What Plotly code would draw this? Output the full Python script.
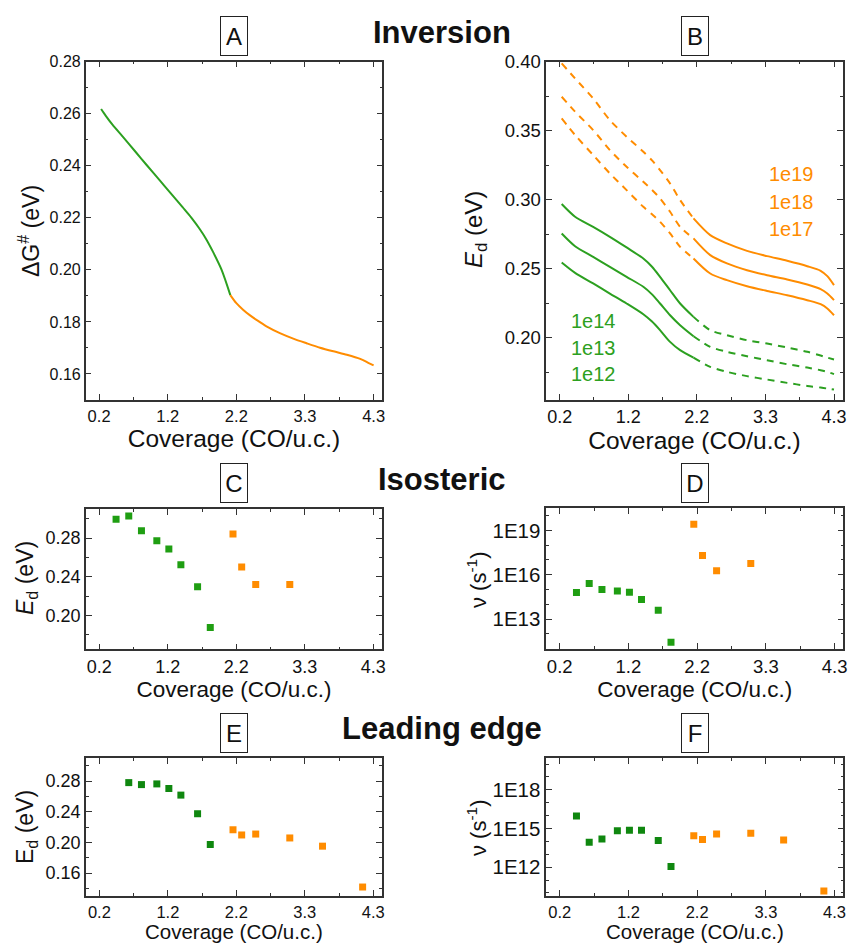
import plotly.graph_objects as go

# ---------------- data ----------------
X_TICKVALS = [0.2, 1.225, 2.25, 3.275, 4.3]
X_TICKTEXT = ["0.2", "1.2", "2.2", "3.3", "4.3"]
X_TITLE = "Coverage (CO/u.c.)"

# Panel A: inversion free energy barrier
A_X = [0.23, 0.30, 0.40, 0.55, 0.75, 0.91, 1.10, 1.30, 1.45, 1.58, 1.70, 1.80, 1.90, 2.03, 2.16,
       2.25, 2.35, 2.45, 2.55, 2.70, 2.90, 3.10, 3.30, 3.50, 3.70, 3.90, 4.10, 4.22, 4.30]
A_Y = [0.2618, 0.2592, 0.2558, 0.2513, 0.2452, 0.2403, 0.2346, 0.2285, 0.2240, 0.2200, 0.2158,
       0.2118, 0.2070, 0.2000, 0.1903,
       0.1872, 0.1847, 0.1826, 0.1808, 0.1783, 0.1757, 0.1736, 0.1718, 0.1701, 0.1687, 0.1674,
       0.1658, 0.1643, 0.1633]
A_SPLIT = 2.16

# Panel B: desorption energy for assumed prefactors
B_X = [0.23, 0.43, 0.7, 0.95, 1.2, 1.45, 1.58, 1.7, 1.85, 2.0, 2.2,
       2.45, 2.7, 3.0, 3.3, 3.6, 3.9, 4.1, 4.2, 4.3]
B_1E19 = [0.3988, 0.3879, 0.3734, 0.3577, 0.3457, 0.3348, 0.3285, 0.3215, 0.3118, 0.2998, 0.2865,
          0.2744, 0.2684, 0.2630, 0.2592, 0.2558, 0.2519, 0.2486, 0.2447, 0.2382]
B_1E18 = [0.3746, 0.3638, 0.3505, 0.3360, 0.3239, 0.3130, 0.3072, 0.3010, 0.2913, 0.2804, 0.2720,
          0.2599, 0.2539, 0.2490, 0.2454, 0.2423, 0.2386, 0.2353, 0.2321, 0.2273]
B_1E17 = [0.3589, 0.3469, 0.3324, 0.3191, 0.3070, 0.2949, 0.2895, 0.2841, 0.2756, 0.2659, 0.2575,
          0.2466, 0.2418, 0.2374, 0.2340, 0.2309, 0.2273, 0.2244, 0.2213, 0.2164]
B_1E14 = [0.2969, 0.2877, 0.2804, 0.2732, 0.2655, 0.2575, 0.2515, 0.2442, 0.2345, 0.2249, 0.2152,
          0.2056, 0.2019, 0.1983, 0.1959, 0.1930, 0.1899, 0.1872, 0.1857, 0.1843]
B_1E13 = [0.2756, 0.2664, 0.2587, 0.2514, 0.2442, 0.2370, 0.2315, 0.2249, 0.2164, 0.2092, 0.2012,
          0.1935, 0.1899, 0.1867, 0.1838, 0.1809, 0.1785, 0.1766, 0.1754, 0.1737]
B_1E12 = [0.2546, 0.2471, 0.2394, 0.2321, 0.2249, 0.2171, 0.2118, 0.2056, 0.1971, 0.1911, 0.1857,
          0.1790, 0.1754, 0.1723, 0.1698, 0.1674, 0.1652, 0.1640, 0.1633, 0.1626]
B_SPLIT = 2.2

# Panels C/D: isosteric analysis
ISO_X_LOW = [0.45, 0.64, 0.83, 1.06, 1.24, 1.42, 1.67, 1.86]
ISO_X_HIGH = [2.20, 2.33, 2.54, 3.05]
C_ED_LOW = [0.2993, 0.3028, 0.2876, 0.2772, 0.2686, 0.2524, 0.2296, 0.1875]
C_ED_HIGH = [0.2841, 0.2500, 0.2320, 0.2320]
D_NU_LOW = [6.2e14, 2.5e15, 9.8e14, 7.9e14, 6.5e14, 2.1e14, 3.9e13, 2.7e11]
D_NU_HIGH = [2.6e19, 1.95e17, 1.86e16, 5.6e16]

# Panels E/F: leading edge analysis
LE_X_LOW_E = [0.64, 0.83, 1.06, 1.24, 1.42, 1.67, 1.86]
LE_X_LOW_F = [0.45, 0.64, 0.83, 1.06, 1.24, 1.42, 1.67, 1.86]
LE_X_HIGH = [2.20, 2.33, 2.54, 3.05, 3.54, 4.14]
E_ED_LOW = [0.2779, 0.2753, 0.2762, 0.2702, 0.2616, 0.2373, 0.1972]
E_ED_HIGH = [0.2164, 0.2096, 0.2108, 0.2057, 0.1950, 0.1417]
F_NU_LOW = [9.3e15, 8.5e13, 1.55e14, 6.6e14, 7.4e14, 7.4e14, 1.15e14, 1.1e12]
F_NU_HIGH = [2.75e14, 1.4e14, 3.7e14, 4.2e14, 1.3e14, 1.4e10]

# ---------------- style ----------------
FONT = "Liberation Sans, Arial, sans-serif"
GREEN_LINE = "#2ca020"
GREEN_C = "#1f9e12"
GREEN_E = "#0f870f"
ORANGE = "#ff8c00"
AX = "#333333"
DASH = "7px,6px"
W, H = 850, 944


def fx(px):
    return px / W


def fy(py):
    return 1 - py / H


def split(xs, ys, cut):
    lo = [(x, y) for x, y in zip(xs, ys) if x <= cut]
    hi = [(x, y) for x, y in zip(xs, ys) if x >= cut]
    return ([p[0] for p in lo], [p[1] for p in lo]), ([p[0] for p in hi], [p[1] for p in hi])


fig = go.Figure()

# Panel A
(axl, ayl), (axh, ayh) = split(A_X, A_Y, A_SPLIT)
fig.add_trace(go.Scatter(x=axl, y=ayl, mode="lines",
                         line=dict(color=GREEN_LINE, width=2, shape="spline", smoothing=0.8),
                         xaxis="x", yaxis="y", showlegend=False))
fig.add_trace(go.Scatter(x=axh, y=ayh, mode="lines",
                         line=dict(color=ORANGE, width=2, shape="spline", smoothing=0.8),
                         xaxis="x", yaxis="y", showlegend=False))

# Panel B
for ys, col, low_dash, high_dash in [
    (B_1E19, ORANGE, DASH, "solid"),
    (B_1E18, ORANGE, DASH, "solid"),
    (B_1E17, ORANGE, DASH, "solid"),
    (B_1E14, GREEN_LINE, "solid", DASH),
    (B_1E13, GREEN_LINE, "solid", DASH),
    (B_1E12, GREEN_LINE, "solid", DASH),
]:
    (bxl, byl), (bxh, byh) = split(B_X, ys, B_SPLIT)
    fig.add_trace(go.Scatter(x=bxl, y=byl, mode="lines",
                             line=dict(color=col, width=2, dash=low_dash, shape="spline", smoothing=0.8),
                             xaxis="x2", yaxis="y2", showlegend=False))
    fig.add_trace(go.Scatter(x=bxh, y=byh, mode="lines",
                             line=dict(color=col, width=2, dash=high_dash, shape="spline", smoothing=0.8),
                             xaxis="x2", yaxis="y2", showlegend=False))

MSZ = 7


def sq(x, y, col, xa, ya):
    return go.Scatter(x=x, y=y, mode="markers",
                      marker=dict(symbol="square", size=MSZ, color=col, line=dict(width=0)),
                      xaxis=xa, yaxis=ya, showlegend=False)


fig.add_trace(sq(ISO_X_LOW, C_ED_LOW, GREEN_C, "x3", "y3"))
fig.add_trace(sq(ISO_X_HIGH, C_ED_HIGH, ORANGE, "x3", "y3"))
fig.add_trace(sq(ISO_X_LOW, D_NU_LOW, GREEN_C, "x4", "y4"))
fig.add_trace(sq(ISO_X_HIGH, D_NU_HIGH, ORANGE, "x4", "y4"))
fig.add_trace(sq(LE_X_LOW_E, E_ED_LOW, GREEN_E, "x5", "y5"))
fig.add_trace(sq(LE_X_HIGH, E_ED_HIGH, ORANGE, "x5", "y5"))
fig.add_trace(sq(LE_X_LOW_F, F_NU_LOW, GREEN_E, "x6", "y6"))
fig.add_trace(sq(LE_X_HIGH, F_NU_HIGH, ORANGE, "x6", "y6"))

X_MINOR = [(a + b) / 2 for a, b in zip(X_TICKVALS[:-1], X_TICKVALS[1:])]


def base_axis(tsize):
    return dict(showline=True, linecolor=AX, linewidth=1.5, mirror="ticks",
                ticks="inside", ticklen=6, tickwidth=1.2, tickcolor=AX,
                showgrid=False, zeroline=False, automargin=False,
                tickfont=dict(family=FONT, size=tsize, color="#111"))


def xaxis(domain, anchor, tsize, tsz_title=None):
    d = base_axis(tsize)
    d.update(domain=domain, anchor=anchor, range=[0.0, 4.43],
             tickmode="array", tickvals=X_TICKVALS, ticktext=X_TICKTEXT,
             minor=dict(tickmode="array", tickvals=X_MINOR, ticks="inside", ticklen=3, tickcolor=AX))
    if tsz_title:
        d["title"] = dict(text=X_TITLE, font=dict(family=FONT, size=tsz_title, color="#111"), standoff=4)
    return d


def yaxis_lin(domain, anchor, rng, dtick, tick0, mdtick, tsize):
    d = base_axis(tsize)
    d.update(domain=domain, anchor=anchor, range=rng, dtick=dtick, tick0=tick0, tickformat=".2f",
             minor=dict(dtick=mdtick, tick0=tick0, ticks="inside", ticklen=3, tickcolor=AX))
    return d


def yaxis_log(domain, anchor, rng, tickvals, ticktext, minorvals, tsize):
    d = base_axis(tsize)
    d.update(domain=domain, anchor=anchor, type="log", range=rng,
             tickmode="array", tickvals=tickvals, ticktext=ticktext,
             minor=dict(tickmode="array", tickvals=minorvals, ticks="inside", ticklen=3, tickcolor=AX))
    return d


layout = dict(
    template="none",
    width=W, height=H, margin=dict(l=0, r=0, t=0, b=0, autoexpand=False),
    paper_bgcolor="white", plot_bgcolor="white",
    font=dict(family=FONT, color="#111"),
    xaxis=xaxis([fx(85.7), fx(382.3)], "y", 16.5, 24.5),
    yaxis=yaxis_lin([fy(400), fy(61.7)], "x", [0.15, 0.28], 0.02, 0.16, 0.01, 16),
    xaxis2=xaxis([fx(546.3), fx(842.7)], "y2", 18, 24.5),
    yaxis2=yaxis_lin([fy(400), fy(61.7)], "x2", [0.155, 0.40], 0.05, 0.20, 0.025, 18.5),
    xaxis3=xaxis([fx(86), fx(382)], "y3", 18, 22.5),
    yaxis3=yaxis_lin([fy(649.3), fy(509)], "x3", [0.165, 0.31], 0.04, 0.20, 0.02, 18),
    xaxis4=xaxis([fx(546.3), fx(843.3)], "y4", 18.5, 22.5),
    yaxis4=yaxis_log([fy(649), fy(508.3)], "x4", [10.97, 20.49],
                     [1e13, 1e16, 1e19], ["1E13", "1E16", "1E19"],
                     [1e11, 1e12, 1e14, 1e15, 1e17, 1e18, 1e20], 20.5),
    xaxis5=xaxis([fx(86), fx(382)], "y5", 16.5),
    yaxis5=yaxis_lin([fy(896), fy(758)], "x5", [0.13, 0.31], 0.04, 0.16, 0.02, 18),
    xaxis6=xaxis([fx(546.3), fx(843.3)], "y6", 16.5),
    yaxis6=yaxis_log([fy(896), fy(758)], "x6", [9.76, 20.47],
                     [1e12, 1e15, 1e18], ["1E12", "1E15", "1E18"],
                     [1e10, 1e11, 1e13, 1e14, 1e16, 1e17, 1e19, 1e20], 20.5),
)

annotations = []
# bottom-row x-axis titles
for cx in (234, 695):
    annotations.append(dict(text=X_TITLE, x=fx(cx), y=0, xref="paper", yref="paper",
                            xanchor="center", yanchor="bottom", showarrow=False, borderpad=0,
                            font=dict(family=FONT, size=20.5, color="#111")))
# y-axis titles
for txt, cx, cy, sz in [
    ("ΔG<sup>#</sup> (eV)", 29, 231, 23),
    ("<i>E</i><sub>d</sub> (eV)", 475, 230, 24),
    ("<i>E</i><sub>d</sub> (eV)", 26, 578, 23),
    ("ν (s<sup>-1</sup>)", 477, 580, 22),
    ("E<sub>d</sub> (eV)", 26, 827, 23),
    ("ν (s<sup>-1</sup>)", 477, 828, 22),
]:
    annotations.append(dict(text=txt, x=fx(cx), y=fy(cy), xref="paper", yref="paper",
                            xanchor="center", yanchor="middle", textangle=-90, showarrow=False,
                            font=dict(family=FONT, size=sz, color="#111")))
# section titles
for txt, cy in [("Inversion", 32), ("Isosteric", 479), ("Leading edge", 728)]:
    annotations.append(dict(text=f"<b>{txt}</b>", x=fx(442), y=fy(cy), xref="paper", yref="paper",
                            xanchor="center", yanchor="middle", showarrow=False,
                            font=dict(family=FONT, size=31, color="#111")))
# boxed panel letters
for lab, cx, cy in [("A", 234, 36), ("B", 695, 36), ("C", 234, 483),
                    ("D", 695, 483), ("E", 234, 733), ("F", 695, 733)]:
    annotations.append(dict(text=lab, x=fx(cx), y=fy(cy), xref="paper", yref="paper",
                            xanchor="center", yanchor="middle", showarrow=False,
                            width=24, height=36, borderpad=1, bordercolor="#222", borderwidth=1,
                            bgcolor="white", font=dict(family=FONT, size=24, color="#111")))
# prefactor labels in B
for lab, ly in [("1e19", 0.319), ("1e18", 0.2986), ("1e17", 0.2785)]:
    annotations.append(dict(text=lab, x=3.66, y=ly, xref="x2", yref="y2", showarrow=False,
                            xanchor="center", yanchor="middle",
                            font=dict(family=FONT, size=20, color=ORANGE)))
for lab, ly in [("1e14", 0.212), ("1e13", 0.1928), ("1e12", 0.1737)]:
    annotations.append(dict(text=lab, x=0.707, y=ly, xref="x2", yref="y2", showarrow=False,
                            xanchor="center", yanchor="middle",
                            font=dict(family=FONT, size=20, color=GREEN_LINE)))

layout["annotations"] = annotations
fig.update_layout(**layout)
fig.write_html("out.html")
